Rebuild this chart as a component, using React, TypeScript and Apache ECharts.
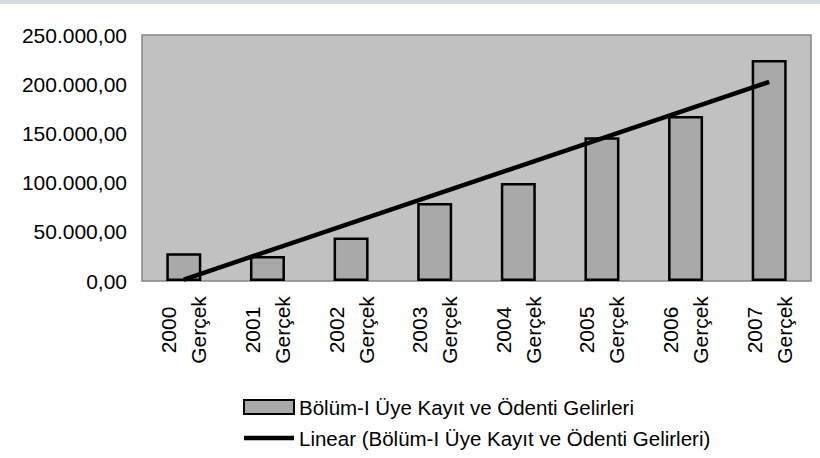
import React, { useEffect, useRef } from "react";
import * as echarts from "echarts";

const years = ["2000", "2001", "2002", "2003", "2004", "2005", "2006", "2007"];
const categories = years.map((y) => y + "\nGerçek");
const barValues = [28300, 25500, 44200, 79300, 99700, 146200, 167700, 224500];
// trend line end points (first and last category)
const trendStart = 1500;
const trendEnd = 202400;
const barName = "Bölüm-I Üye Kayıt ve Ödenti Gelirleri";
const lineName = "Linear (Bölüm-I Üye Kayıt ve Ödenti Gelirleri)";

const FONT = "'Liberation Sans', Arial, sans-serif";

function fmtTR(v: number): string {
  const s = Math.round(v).toString();
  const withDots = s.replace(/\B(?=(\d{3})+(?!\d))/g, ".");
  return withDots + ",00";
}

export default function App() {
  const ref = useRef<HTMLDivElement>(null);
  useEffect(() => {
    document.body.style.margin = "0";
    if (!ref.current) return;
    const chart = echarts.init(ref.current, undefined, { renderer: "svg" });
    const trendData = categories.map((_, i) =>
      i === 0 ? trendStart : i === categories.length - 1 ? trendEnd : null
    );
    chart.setOption({
      animation: false,
      backgroundColor: "#ffffff",
      textStyle: { fontFamily: FONT },
      graphic: [
        {
          type: "rect",
          left: 0,
          top: 0,
          shape: { width: 820, height: 4 },
          style: { fill: "#d6dbe0" },
          silent: true,
        },
      ],
      grid: {
        left: 142,
        right: 9,
        top: 35,
        bottom: 177,
        show: true,
        backgroundColor: "#c1c1c1",
        borderColor: "#858585",
        borderWidth: 1.5,
        containLabel: false,
      },
      legend: {
        orient: "vertical",
        left: 238,
        top: 391,
        padding: 5,
        itemWidth: 50,
        itemHeight: 14,
        itemGap: 9,
        textStyle: { fontFamily: FONT, fontSize: 20.5, color: "#000", lineHeight: 22 },
        data: [
          { name: barName, icon: "rect" },
          { name: lineName, icon: "path://M0,0 H50 V4.5 H0 Z" },
        ],
      },
      xAxis: {
        type: "category",
        data: categories,
        axisLine: { show: false },
        axisTick: { show: false },
        axisLabel: {
          rotate: 90,
          interval: 0,
          margin: 49,
          align: "center",
          verticalAlign: "middle",
          fontSize: 21,
          lineHeight: 30,
          color: "#000",
          fontFamily: FONT,
        },
      },
      yAxis: {
        type: "value",
        min: 0,
        max: 250000,
        interval: 50000,
        splitLine: { show: false },
        axisLine: { show: false },
        axisTick: { show: false },
        axisLabel: {
          margin: 15,
          fontSize: 21,
          color: "#000",
          fontFamily: FONT,
          formatter: (v: number) => fmtTR(v),
        },
      },
      series: [
        {
          name: barName,
          type: "bar",
          data: barValues,
          barWidth: 35,
          itemStyle: { color: "#a9a9a9", borderColor: "#000", borderWidth: 2.5 },
        },
        {
          name: lineName,
          type: "line",
          data: trendData,
          connectNulls: true,
          symbol: "none",
          color: "#000",
          lineStyle: { color: "#000", width: 4.5 },
          itemStyle: { color: "#000" },
        },
      ],
    });
    return () => chart.dispose();
  }, []);
  return <div ref={ref} style={{ width: 820, height: 458 }} />;
}
